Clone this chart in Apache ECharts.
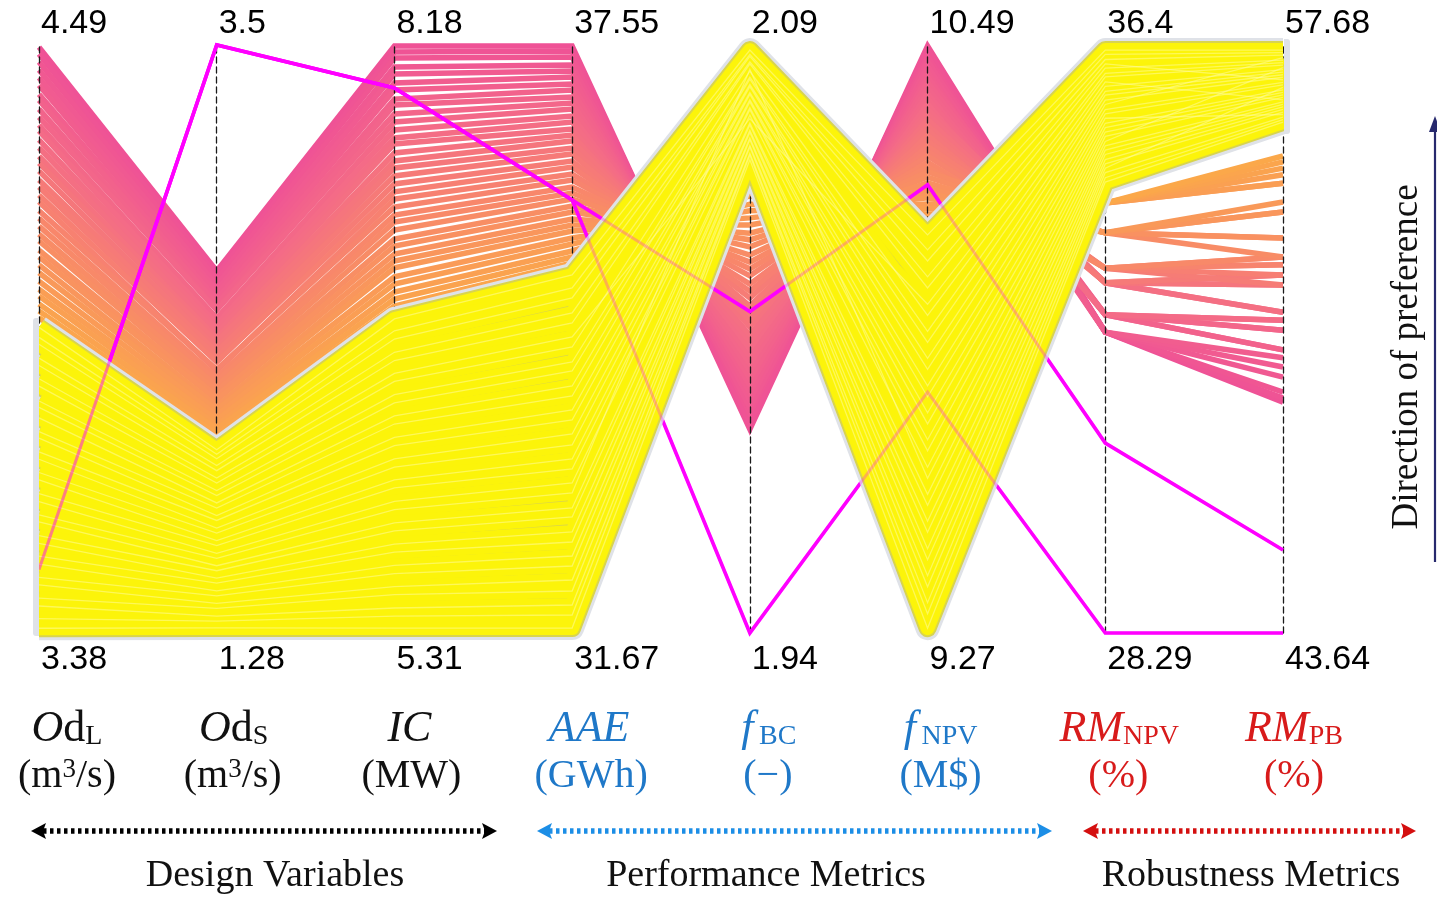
<!DOCTYPE html>
<html>
<head>
<meta charset="utf-8">
<script src="https://cdn.jsdelivr.net/npm/echarts@6/dist/echarts.min.js"></script>
<style>
html,body{margin:0;padding:0;background:#fff;}
#chart{width:1437px;height:897px;}
</style>
</head>
<body>
<div id="chart"></div>
<script>
// ---- axis extents (bottom and top value of every vertical axis) ----
const axisMin = [3.38, 1.28, 5.31, 31.67, 1.94, 9.27, 28.29, 43.64];
const axisMax = [4.49, 3.5, 8.18, 37.55, 2.09, 10.49, 36.4, 57.68];

// ---- axis titles ----
const axisSymbols = ['{it|O}{up|d}{sub|L}', '{it|O}{up|d}{sub|S}', '{it|IC}', '{it|AAE}',
  '{it|f}{sub|\u2009BC}', '{it|f}{sub|\u2009NPV}', '{it|RM}{sub|NPV}', '{it|RM}{sub|PB}'];
const axisUnits = ['(m{sup|3}/s)', '(m{sup|3}/s)', '(MW)', '(GWh)', '(\u2212)', '(M$)', '(%)', '(%)'];
const groupNames = ['Design Variables', 'Performance Metrics', 'Robustness Metrics'];

// ---- trade-off solutions (pink → orange), one array per axis ----
const tOdL = [4.486, 4.473, 4.458, 4.443, 4.428, 4.414, 4.397, 4.386, 4.369, 4.354, 4.339, 4.328, 4.311, 4.296, 4.280, 4.267, 4.252, 4.235,
  4.222, 4.207, 4.194, 4.177, 4.163, 4.148, 4.133, 4.120, 4.103, 4.090, 4.075, 4.060, 4.044, 4.029, 4.016, 4.001, 3.988, 3.975];
const tOdS = [2.647, 2.632, 2.616, 2.594, 2.575, 2.560, 2.541, 2.522, 2.503, 2.500, 2.469, 2.447, 2.431, 2.413, 2.394, 2.379, 2.356, 2.341,
  2.322, 2.303, 2.270, 2.275, 2.246, 2.231, 2.212, 2.194, 2.175, 2.160, 2.137, 2.122, 2.103, 2.084, 2.065, 2.050, 2.031, 2.012];
const tIC = [8.175, 8.146, 8.117, 8.073, 8.038, 7.995, 7.960, 7.916, 7.887, 7.843, 7.804, 7.765, 7.726, 7.697, 7.653, 7.614, 7.580, 7.541,
  7.502, 7.463, 7.428, 7.389, 7.350, 7.316, 7.277, 7.233, 7.199, 7.160, 7.126, 7.092, 7.048, 7.013, 6.974, 6.940, 6.906, 6.872];
const tAAE = [37.54, 37.49, 37.43, 37.35, 37.29, 37.23, 37.16, 37.10, 37.03, 36.97, 36.91, 36.84, 36.78, 36.71, 36.65, 36.59, 36.52, 36.46,
  36.39, 36.33, 36.26, 36.20, 36.13, 36.07, 36.01, 35.94, 35.88, 35.81, 35.75, 35.69, 35.62, 35.56, 35.49, 35.43, 35.37, 35.31];
const tFBC = [1.9920, 1.9936, 1.9959, 1.9974, 1.9994, 2.0012, 2.0030, 2.0048, 2.0068, 2.0086, 2.0104, 2.0125, 2.0142, 2.0160, 2.0181, 2.0198, 2.0216, 2.0234,
  2.0255, 2.0272, 2.0290, 2.0311, 2.0329, 2.0346, 2.0364, 2.0385, 2.0403, 2.0420, 2.0441, 2.0459, 2.0477, 2.0494, 2.0515, 2.0533, 2.0551, 2.0566];
const tFNPV = [10.488, 10.480, 10.467, 10.457, 10.446, 10.434, 10.424, 10.413, 10.401, 10.390, 10.380, 10.368, 10.357, 10.347, 10.336, 10.324, 10.314, 10.303,
  10.291, 10.280, 10.270, 10.260, 10.247, 10.237, 10.227, 10.216, 10.204, 10.193, 10.183, 10.173, 10.160, 10.150, 10.139, 10.129, 10.119, 10.108];
const tRMNPV = [32.44, 32.44, 32.44, 32.44, 32.44, 32.44, 32.68, 32.68, 32.68, 32.68, 32.68, 32.68, 33.12, 33.12, 33.12, 33.12, 33.12, 33.12,
  33.32, 33.32, 33.32, 33.32, 33.32, 33.32, 33.81, 33.81, 33.81, 33.81, 33.81, 33.81, 34.22, 34.22, 34.22, 34.22, 34.22, 34.22];
const tRMPB = [49.15, 49.25, 49.39, 49.75, 49.99, 50.21, 50.40, 50.40, 50.87, 50.87, 51.11, 51.11, 51.30, 51.30, 51.95, 51.95, 52.19, 52.19,
  51.95, 52.19, 52.43, 52.43, 52.62, 52.62, 52.62, 53.07, 53.07, 53.69, 53.69, 53.93, 54.38, 54.38, 54.58, 54.74, 54.89, 55.03];

// ---- robust solutions (yellow), one array per axis ----
const yOdL = [3.957, 3.938, 3.925, 3.899, 3.885, 3.860, 3.846, 3.818, 3.806, 3.786, 3.760, 3.748, 3.722, 3.708, 3.683,
  3.669, 3.643, 3.628, 3.603, 3.590, 3.564, 3.549, 3.525, 3.510, 3.485, 3.471, 3.446, 3.431, 3.407, 3.389];
const yOdS = [1.972, 1.955, 1.938, 1.912, 1.893, 1.865, 1.846, 1.818, 1.799, 1.771, 1.752, 1.723, 1.705, 1.676, 1.657,
  1.629, 1.610, 1.581, 1.562, 1.534, 1.515, 1.487, 1.468, 1.439, 1.420, 1.392, 1.373, 1.344, 1.325, 1.299];
const yIC = [6.843, 6.785, 6.745, 6.680, 6.640, 6.577, 6.538, 6.473, 6.433, 6.370, 6.330, 6.265, 6.225, 6.160, 6.120,
  6.057, 6.018, 5.952, 5.912, 5.848, 5.808, 5.744, 5.705, 5.640, 5.600, 5.536, 5.497, 5.432, 5.392, 5.334];
const yAAE = [35.25, 35.12, 35.02, 34.87, 34.77, 34.63, 34.53, 34.38, 34.29, 34.14, 34.04, 33.90, 33.80, 33.66, 33.55,
  33.41, 33.31, 33.17, 33.07, 32.92, 32.83, 32.68, 32.58, 32.44, 32.34, 32.20, 32.09, 31.95, 31.85, 31.72];
const yFBC = [2.0887, 2.0876, 2.0871, 2.0857, 2.0852, 2.0712, 2.0833, 2.0818, 2.0813, 2.0799, 2.0794, 2.0779, 2.0774, 2.0760, 2.0755,
  2.0740, 2.0735, 2.0721, 2.0838, 2.0701, 2.0696, 2.0682, 2.0677, 2.0663, 2.0658, 2.0644, 2.0639, 2.0624, 2.0619, 2.0607];
const yFNPV = [10.096, 10.065, 10.042, 10.009, 9.986, 9.952, 9.929, 9.896, 9.873, 9.840, 9.817, 9.783, 9.760, 9.727, 9.704,
  9.671, 9.648, 9.614, 9.591, 9.558, 9.535, 9.502, 9.479, 9.445, 9.422, 9.389, 9.366, 9.333, 9.310, 9.280];
const yRMNPV = [36.33, 36.27, 36.20, 36.14, 36.08, 36.01, 35.96, 35.89, 35.83, 35.76, 35.71, 35.64, 35.58, 35.51, 35.45,
  35.39, 35.32, 35.26, 35.20, 35.14, 35.07, 35.01, 34.95, 34.89, 34.82, 34.76, 34.70, 34.64, 34.57, 34.51];
const yRMPB = [57.56, 57.50, 57.44, 56.85, 57.32, 57.26, 57.20, 56.37, 57.09, 57.03, 56.97, 56.91, 57.38, 56.79, 56.73,
  56.02, 56.61, 56.55, 56.49, 56.43, 57.14, 56.32, 56.26, 56.20, 56.14, 56.08, 56.67, 55.96, 55.90, 55.84];

// ---- highlighted solutions (magenta) ----
const hOdL = [3.50, 3.50];
const hOdS = [3.5, 3.5];
const hIC = [7.97, 7.97];
const hAAE = [36.00, 36.00];
const hFBC = [1.94, 2.022];
const hFNPV = [9.77, 10.20];
const hRMNPV = [28.29, 30.91];
const hRMPB = [43.64, 45.62];

// ---------------------------------------------------------------
const toRows = cols => cols[0].map((_, i) => cols.map(c => c[i]));
const tradeoffRows = toRows([tOdL, tOdS, tIC, tAAE, tFBC, tFNPV, tRMNPV, tRMPB]);
const robustRows = toRows([yOdL, yOdS, yIC, yAAE, yFBC, yFNPV, yRMNPV, yRMPB]);
const highlightRows = toRows([hOdL, hOdS, hIC, hAAE, hFBC, hFNPV, hRMNPV, hRMPB]);

// pink → salmon → orange ramp for the trade-off lines
const ramp = [[239, 82, 150], [244, 108, 134], [248, 138, 104], [251, 168, 74]];
function shade(t) {
  const s = t * (ramp.length - 1);
  const k = Math.min(Math.floor(s), ramp.length - 2);
  const f = s - k;
  const a = ramp[k], b = ramp[k + 1];
  return 'rgb(' + a.map((v, j) => Math.round(v + (b[j] - v) * f)).join(',') + ')';
}

const layout = { left: 39, right: 154, top: 45, bottom: 264 };
const W = 1437, H = 897;
const plotW = W - layout.left - layout.right;
const axisX = i => layout.left + i * plotW / (axisMin.length - 1);

const SERIF = '"Liberation Serif", "Times New Roman", serif';
const SANS = '"Liberation Sans", Arial, sans-serif';

// only the two end values are printed: the top one above the axis, the bottom one below it
function endLabel(i) {
  return function (v) {
    if (Math.abs(v - axisMax[i]) < 1e-9) return '{v|' + axisMax[i] + '}\n{gt| }';
    if (Math.abs(v - axisMin[i]) < 1e-9) return '{gb| }\n{v|' + axisMin[i] + '}';
    return '';
  };
}

const parallelAxis = axisMin.map((mn, i) => ({
  dim: i,
  type: 'value',
  min: mn,
  max: axisMax[i],
  z: 3,
  axisLine: { show: true, lineStyle: { color: '#1a1a1a', width: 1.3, type: [6, 4] } },
  axisTick: { show: false },
  splitLine: { show: false },
  axisLabel: {
    show: true,
    margin: 2,
    color: '#000',
    fontSize: 34,
    fontFamily: SANS,
    showMinLabel: true,
    showMaxLabel: true,
    formatter: endLabel(i),
    rich: {
      v: { fontSize: 34, fontFamily: SANS, color: '#000', lineHeight: 47 },
      gt: { fontSize: 10, lineHeight: 43 },
      gb: { fontSize: 10, lineHeight: 53 }
    }
  }
}));

const common = { type: 'parallel', parallelIndex: 0, silent: true, smooth: false,
  inactiveOpacity: 1, activeOpacity: 1, realtime: false };

const series = [
  Object.assign({}, common, {
    name: 'trade-off', z: 2,
    lineStyle: { width: 5.5, opacity: 1 },
    data: tradeoffRows.map((r, i) => ({ value: r, lineStyle: { color: shade(i / (tradeoffRows.length - 1)), width: 5.5, opacity: 1 } }))
  }),
  Object.assign({}, common, {
    name: 'highlight', z: 4,
    lineStyle: { color: '#ff00ff', width: 3.6, opacity: 1 },
    data: highlightRows
  }),
  Object.assign({}, common, {
    name: 'robust-halo', z: 5,
    lineStyle: { color: '#dfe2e8', width: 24, opacity: 1, join: 'round' },
    data: robustRows
  }),
  Object.assign({}, common, {
    name: 'robust-edge', z: 6,
    lineStyle: { color: '#d8d44e', width: 18, opacity: 1, join: 'round' },
    data: robustRows
  }),
  Object.assign({}, common, {
    name: 'robust', z: 7,
    lineStyle: { color: '#fcf40a', width: 14, opacity: 1, join: 'round' },
    data: robustRows
  }),
  Object.assign({}, common, {
    name: 'robust-streak', z: 8,
    lineStyle: { color: '#fffb9a', width: 1.3, opacity: 0.55 },
    data: robustRows
  }),
  Object.assign({}, common, {
    name: 'highlight-through', z: 9,
    lineStyle: { color: '#ff00ff', width: 3, opacity: 0.28 },
    data: highlightRows
  })
];

// ---- annotations below the axes ----
const symOffset = [28, 17, 15, 17, 19, 13, 14, 11];
const unitOffset = [28, 16, 17, 19, 18, 13, 13, 11];
const groupColor = ['#111', '#111', '#111', '#1f78c8', '#1f78c8', '#1f78c8', '#d81b1b', '#d81b1b'];
const rich = {
  it: { fontStyle: 'italic', fontSize: 44, fontFamily: SERIF },
  up: { fontSize: 44, fontFamily: SERIF },
  sub: { fontSize: 28, fontFamily: SERIF, verticalAlign: 'bottom', lineHeight: 12 }
};
const unitRich = {
  sup: { fontSize: 27, fontFamily: SERIF, verticalAlign: 'top', lineHeight: 26 }
};

const graphics = [];
// clean vertical ends of the thick yellow band at the first and last axis
graphics.push({ type: 'rect', z: 20, silent: true, shape: { x: 0, y: 290, width: 33, height: 360 }, style: { fill: '#fff' } });
graphics.push({ type: 'rect', z: 20, silent: true, shape: { x: 33, y: 318, width: 6, height: 318, r: [3, 0, 0, 3] }, style: { fill: '#dfe2e8' } });
graphics.push({ type: 'rect', z: 20, silent: true, shape: { x: 1290, y: 36, width: 90, height: 106 }, style: { fill: '#fff' } });
graphics.push({ type: 'rect', z: 20, silent: true, shape: { x: 1284, y: 39, width: 6, height: 95, r: [0, 3, 3, 0] }, style: { fill: '#dfe2e8' } });

axisSymbols.forEach((s, i) => {
  graphics.push({
    type: 'text', x: axisX(i) + symOffset[i], y: 729, silent: true, z: 21,
    style: { text: s, rich: rich, fill: groupColor[i], align: 'center', verticalAlign: 'middle', font: '44px ' + SERIF }
  });
  graphics.push({
    type: 'text', x: axisX(i) + unitOffset[i], y: 776, silent: true, z: 21,
    style: { text: axisUnits[i], rich: unitRich, fill: groupColor[i], align: 'center', verticalAlign: 'middle', font: '40px ' + SERIF }
  });
});

function dottedArrow(x1, x2, y, color) {
  graphics.push({ type: 'line', silent: true, z: 21,
    shape: { x1: x1 + 12, y1: y, x2: x2 - 12, y2: y },
    style: { stroke: color, lineWidth: 5.5, lineDash: [3.5, 3.5] } });
  graphics.push({ type: 'polygon', silent: true, z: 21,
    shape: { points: [[x1, y], [x1 + 15, y - 8], [x1 + 12, y], [x1 + 15, y + 8]] }, style: { fill: color } });
  graphics.push({ type: 'polygon', silent: true, z: 21,
    shape: { points: [[x2, y], [x2 - 15, y - 8], [x2 - 12, y], [x2 - 15, y + 8]] }, style: { fill: color } });
}
dottedArrow(31, 497, 831, '#000');
dottedArrow(537, 1052, 831, '#1c8ee6');
dottedArrow(1083, 1416, 831, '#d40f0f');

const groupCenter = [275, 766, 1251];
groupNames.forEach((g, i) => graphics.push({
  type: 'text', x: groupCenter[i], y: 876, silent: true, z: 21,
  style: { text: g, fill: '#111', align: 'center', verticalAlign: 'middle', font: '38px ' + SERIF }
}));

// preference direction on the right edge
graphics.push({
  type: 'text', x: 1407, y: 357, rotation: Math.PI / 2, silent: true, z: 21,
  style: { text: 'Direction of preference', fill: '#111', align: 'center', verticalAlign: 'middle', font: '37px ' + SERIF }
});
graphics.push({ type: 'line', silent: true, z: 21, shape: { x1: 1435, y1: 562, x2: 1435, y2: 126 },
  style: { stroke: '#27296d', lineWidth: 2.2 } });
graphics.push({ type: 'polygon', silent: true, z: 21, shape: { points: [[1429, 132], [1435, 116], [1441, 132]] },
  style: { fill: '#27296d' } });

const chart = echarts.init(document.getElementById('chart'), null, { renderer: 'canvas' });
chart.setOption({
  animation: false,
  backgroundColor: '#ffffff',
  parallel: {
    left: layout.left, right: layout.right, top: layout.top, bottom: layout.bottom,
    layout: 'horizontal'
  },
  parallelAxis: parallelAxis,
  series: series,
  graphic: { elements: graphics }
});
</script>
</body>
</html>
